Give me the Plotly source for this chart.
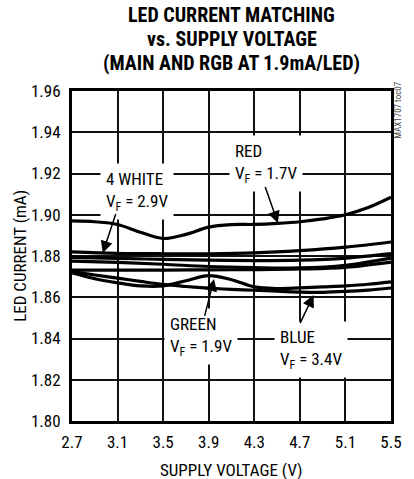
import plotly.graph_objects as go

# ---- data ----
v_fine = [2.7, 2.9, 3.1, 3.3, 3.5, 3.7, 3.9, 4.1, 4.3, 4.5, 4.7, 4.9, 5.1, 5.3, 5.5]
red = [1.8970, 1.8966, 1.8953, 1.8915, 1.8885, 1.8905, 1.8940, 1.8952, 1.8953, 1.8958, 1.8966, 1.8980, 1.9000, 1.9035, 1.9085]
green = [1.8718, 1.8690, 1.8670, 1.8655, 1.8655, 1.8680, 1.8705, 1.8685, 1.8650, 1.8642, 1.8645, 1.8650, 1.8655, 1.8663, 1.8675]
blue = [1.8725, 1.8708, 1.8693, 1.8677, 1.8662, 1.8652, 1.8644, 1.8638, 1.8634, 1.8629, 1.8625, 1.8624, 1.8628, 1.8635, 1.8645]

v_coarse = [2.7, 3.1, 3.5, 3.9, 4.3, 4.7, 5.1, 5.5]
white1 = [1.8820, 1.8813, 1.8811, 1.8811, 1.8815, 1.8826, 1.8843, 1.8868]
white2 = [1.8793, 1.8788, 1.8784, 1.8780, 1.8778, 1.8780, 1.8790, 1.8812]
white3 = [1.8775, 1.8769, 1.8760, 1.8749, 1.8744, 1.8742, 1.8755, 1.8790]
white4 = [1.8732, 1.8732, 1.8732, 1.8733, 1.8734, 1.8737, 1.8745, 1.8770]

x_ticks = [2.7, 3.1, 3.5, 3.9, 4.3, 4.7, 5.1, 5.5]
y_ticks = [1.80, 1.82, 1.84, 1.86, 1.88, 1.90, 1.92, 1.94, 1.96]

FONT = "Liberation Sans Narrow, Arial Narrow, Roboto Condensed, Liberation Sans, sans-serif"

fig = go.Figure()

series = [
    (v_fine, red), (v_coarse, white1), (v_coarse, white2), (v_coarse, white3),
    (v_coarse, white4), (v_fine, green), (v_fine, blue),
]
for xs, ys in series:
    fig.add_trace(go.Scatter(x=xs, y=ys, mode="lines",
                             line=dict(color="black", width=3.2, shape="spline", smoothing=1.0),
                             showlegend=False, hoverinfo="skip"))

axis_common = dict(showgrid=True, gridcolor="#111111", gridwidth=1.5, zeroline=False,
                   showline=True, linecolor="black", linewidth=3, mirror=True,
                   ticks="", tickfont=dict(family=FONT, size=17, color="black"))

fig.update_xaxes(range=[2.7, 5.5], tickmode="array", tickvals=x_ticks,
                 ticktext=[f"{t:.1f}" for t in x_ticks], ticklabelstandoff=4, **axis_common)
fig.update_yaxes(range=[1.80, 1.96], tickmode="array", tickvals=y_ticks,
                 ticktext=[f"{t:.2f}" for t in y_ticks], ticklabelstandoff=5, **axis_common)

annotations = []
# title
for txt, yy in [("LED CURRENT MATCHING", 1.2303), ("vs. SUPPLY VOLTAGE", 1.1576),
                ("(MAIN AND RGB AT 1.9mA/LED)", 1.0848)]:
    annotations.append(dict(text=f"<b>{txt}</b>", x=0.5, y=yy, xref="paper", yref="paper",
                            xanchor="center", yanchor="middle", showarrow=False,
                            font=dict(family=FONT, size=20, color="black")))
# axis titles
annotations.append(dict(text="SUPPLY VOLTAGE (V)", x=0.5, y=-0.1485, xref="paper", yref="paper",
                        xanchor="center", yanchor="middle", showarrow=False,
                        font=dict(family=FONT, size=17, color="black")))
annotations.append(dict(text="LED CURRENT (mA)", x=-0.1636, y=0.5, xref="paper", yref="paper",
                        xanchor="center", yanchor="middle", showarrow=False, textangle=-90,
                        font=dict(family=FONT, size=17, color="black")))
# watermark
annotations.append(dict(text="MAX1707 toc07", x=1.0212, y=0.9424, xref="paper", yref="paper",
                        xanchor="center", yanchor="middle", showarrow=False, textangle=-90,
                        font=dict(family=FONT, size=9, color="#444")))

# labels with white boxes
labels = [
    ("4 WHITE<br>V<sub>F</sub> = 2.9V", 3.27, 1.9115, "left"),
    ("RED<br>V<sub>F</sub> = 1.7V", 4.40, 1.9249, "left"),
    ("GREEN<br>V<sub>F</sub> = 1.9V", 3.83, 1.8410, "left"),
    ("BLUE<br>V<sub>F</sub> = 3.4V", 4.80, 1.8345, "left"),
]
for txt, xx, yy, al in labels:
    annotations.append(dict(text=txt, x=xx, y=yy, xref="x", yref="y", showarrow=False,
                            xanchor="center", yanchor="middle", align=al,
                            bgcolor="white", borderpad=5,
                            font=dict(family=FONT, size=17, color="black")))

# arrows (tail -> tip)
arrows = [
    (3.09, 1.9013, 2.97, 1.8815),
    (4.39, 1.9144, 4.507, 1.8960),
    (3.86, 1.8500, 3.947, 1.8688),
    (4.694, 1.8465, 4.821, 1.8611),
]
for tx, ty, hx, hy in arrows:
    annotations.append(dict(text=" ", x=hx, y=hy, ax=tx, ay=ty, xref="x", yref="y",
                            axref="x", ayref="y", showarrow=True, arrowhead=2,
                            arrowsize=1.6, arrowwidth=1.5, arrowcolor="black",
                            font=dict(size=1)))

fig.update_layout(width=414, height=479, margin=dict(l=72, r=12, t=91, b=58),
                  plot_bgcolor="white", paper_bgcolor="white",
                  annotations=annotations)

fig.write_html("out.html", config={"displayModeBar": False},
               post_script="document.body.style.margin='0';")
